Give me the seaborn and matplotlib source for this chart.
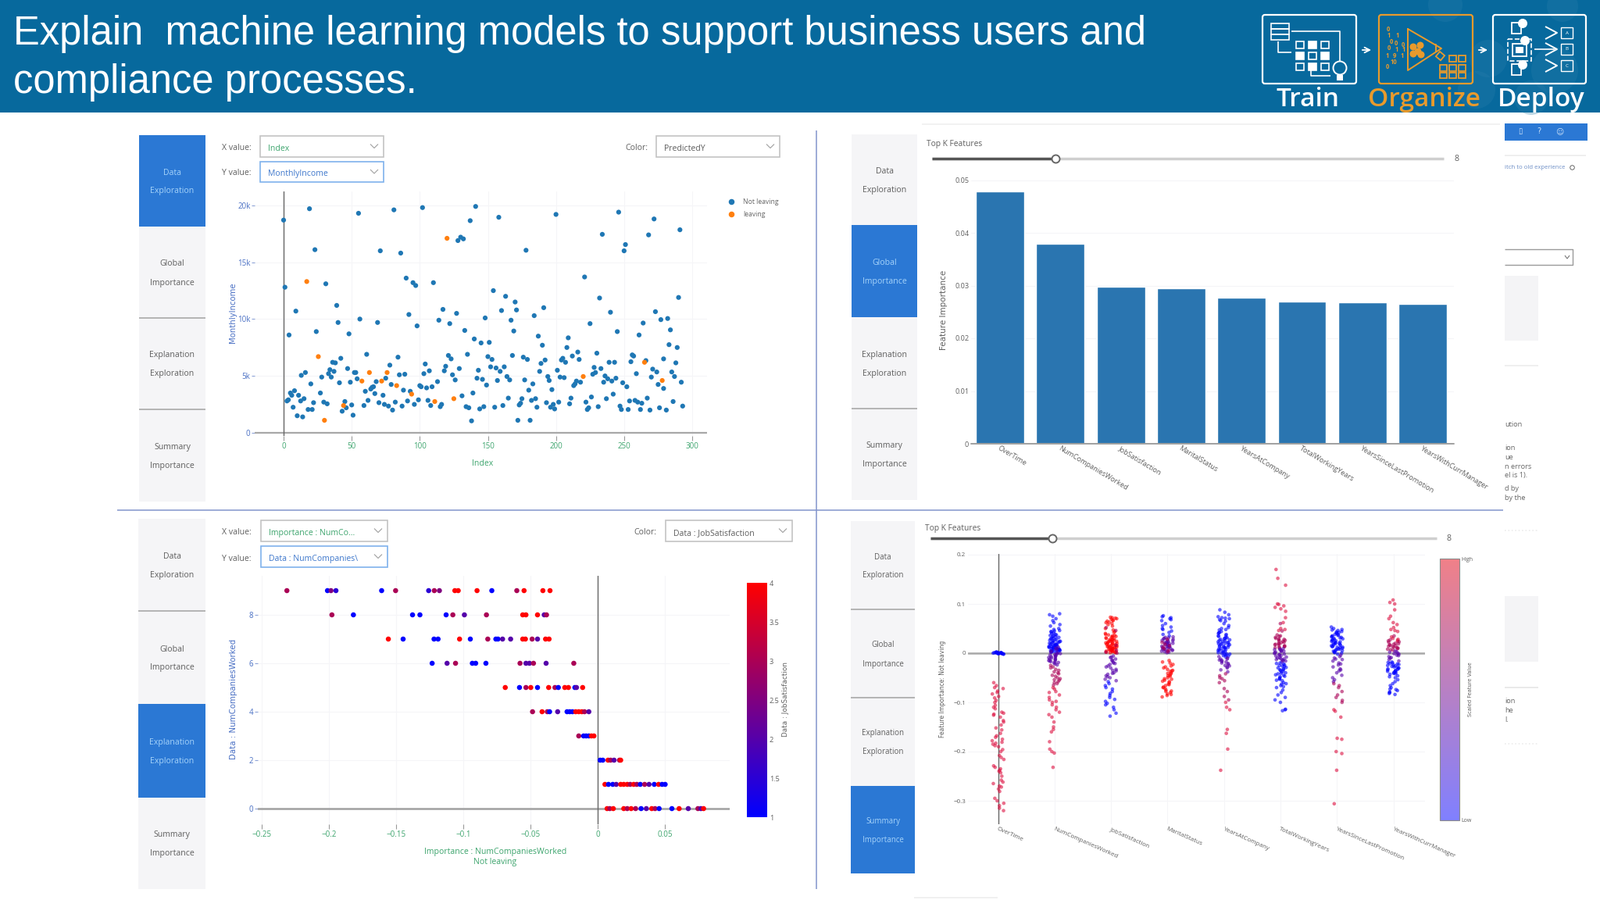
import matplotlib
matplotlib.use("Agg")
import matplotlib.pyplot as plt
import matplotlib.patches as mpatches
from matplotlib.cm import ScalarMappable
from matplotlib.colors import LinearSegmentedColormap, Normalize
from matplotlib.lines import Line2D
import pandas as pd
import seaborn as sns

W, H = 2048, 1152

# scatter, top left
leaving_index = [17, 25.5, 30, 44, 57.5, 63, 72, 76, 83, 94, 111, 120, 125, 220, 265, 278]
leaving_income = [13.3, 6.7, 1.1, 2.4, 4.55, 5.3, 4.55, 5.3, 4.15, 3.4, 2.75, 17.1, 3.0, 4.95, 6.2, 4.6]
staying_index = [
    0, 1, 4, 9, 19, 23, 24, 31, 39, 40, 48, 55, 56, 69, 71, 81, 86, 90, 95, 97, 92, 98, 102, 110, 117,
    114, 122, 127, 128, 130, 132, 133, 137, 141, 140, 148, 145, 151, 154, 158, 160, 163, 170, 171, 167,
    169, 178, 184, 191, 187, 190, 200, 209, 208, 216, 212, 221, 230, 232, 225, 234, 240, 245, 246, 251,
    250, 261, 264, 268, 272, 273, 277, 282, 284, 290, 291, 283, 289,
    2.5, 3.5, 5, 6, 8, 11, 12.5, 15, 7, 10, 14, 13, 16, 20, 18, 21, 22, 27, 28, 29.5, 32, 33, 34, 35, 37,
    36, 38, 41, 42, 43, 45, 46, 47, 49, 50, 51, 52, 53, 54, 59, 60, 61, 62, 64, 65, 66, 67, 68, 70, 73,
    74, 75, 77, 78, 79, 80, 82, 84, 85, 87, 88, 89, 91, 93, 96, 99, 100, 101, 103, 104, 105, 106, 107,
    108, 109, 113, 115, 116, 118, 119, 121, 123, 124, 126, 129, 131, 134, 135, 136, 138, 139, 142, 143,
    144, 146, 147, 149, 150, 152, 153, 155, 156, 157, 159, 161, 162, 164, 165, 166, 168, 172, 173, 174,
    175, 176, 177, 179, 180, 181, 182, 183, 185, 186, 188, 189, 192, 193, 194, 195, 196, 197, 198, 199,
    201, 202, 203, 204, 205, 206, 207, 210, 211, 213, 214, 215, 217, 218, 222, 223, 224, 226, 227, 228,
    229, 231, 233, 235, 236, 237, 238, 239, 241, 242, 243, 244, 247, 248, 249, 252, 253, 254, 255, 256,
    257, 258, 259, 260, 262, 263, 266, 267, 269, 270, 271, 274, 275, 276, 279, 279, 281, 285, 286, 287,
    288, 292, 293,
]
staying_income = [
    18.7, 12.8, 8.6, 10.7, 19.7, 16.1, 8.9, 13.1, 11.2, 9.7, 8.7, 19.3, 10.0, 9.7, 16.0, 19.6, 15.8, 13.6,
    13.2, 12.95, 10.4, 9.4, 19.8, 13.2, 10.85, 9.9, 9.6, 10.5, 16.9, 17.2, 17.05, 9.0, 18.65, 19.9, 8.25,
    10.1, 7.9, 7.95, 12.5, 18.95, 10.75, 12.0, 11.5, 10.8, 9.9, 8.95, 16.05, 10.3, 11.0, 8.5, 7.7, 19.2,
    8.35, 7.5, 7.1, 6.75, 13.7, 7.0, 11.85, 9.6, 17.45, 10.6, 8.9, 19.4, 16.55, 16.0, 8.6, 9.65, 17.4,
    18.8, 10.65, 9.95, 10.05, 9.05, 11.9, 17.85, 7.75, 7.5,
    2.8, 2.9, 3.5, 3.3, 3.7, 3.3, 2.8, 3.0, 2.25, 1.5, 1.4, 5.05, 5.3, 4.3, 2.05, 2.05, 2.65, 3.5, 4.9,
    2.7, 2.55, 5.2, 5.55, 4.9, 5.4, 6.2, 6.15, 4.4, 6.55, 1.9, 2.75, 2.2, 5.65, 4.45, 2.45, 1.55, 5.3,
    5.3, 4.75, 2.4, 3.65, 6.9, 2.85, 3.85, 4.0, 4.05, 3.45, 4.5, 2.65, 3.3, 2.5, 4.8, 2.35, 5.95, 4.25,
    2.0, 2.7, 6.65, 5.1, 2.35, 3.75, 5.15, 2.8, 3.65, 2.5, 2.9, 4.15, 4.05, 5.2, 6.05, 3.95, 2.85, 5.45,
    2.4, 4.05, 4.5, 2.3, 2.5, 5.45, 5.85, 6.8, 6.5, 5.1, 4.65, 5.65, 3.25, 2.3, 6.9, 2.2, 1.05, 3.5, 4.8,
    5.5, 2.1, 4.7, 2.3, 4.2, 6.7, 5.8, 6.45, 2.25, 5.7, 4.6, 5.4, 2.4, 5.8, 4.95, 3.05, 4.65, 6.8, 1.1,
    2.45, 2.6, 3.0, 6.65, 4.65, 6.45, 3.75, 1.1, 2.85, 4.3, 3.0, 2.25, 5.4, 6.1, 6.4, 2.65, 4.95, 4.6,
    2.25, 3.8, 2.5, 2.1, 5.5, 2.7, 4.9, 6.4, 6.55, 4.85, 6.2, 2.55, 3.05, 4.15, 4.3, 4.55, 6.45, 4.45,
    2.7, 2.05, 2.2, 3.15, 5.15, 5.75, 5.3, 2.3, 5.65, 4.45, 5.0, 3.0, 4.75, 6.2, 4.55, 3.4, 6.2, 4.8,
    2.35, 2.05, 4.4, 4.05, 2.05, 2.8, 6.25, 6.85, 6.75, 2.85, 5.2, 2.7, 2.05, 2.6, 6.35, 3.05, 2.0, 4.9,
    5.6, 5.35, 4.25, 2.2, 3.9, 6.5, 2.0, 5.35, 2.75, 4.95, 6.15, 4.45, 2.35,
]

# bars, top right
features = ["OverTime", "NumCompaniesWorked", "JobSatisfaction", "MaritalStatus", "YearsAtCompany",
            "TotalWorkingYears", "YearsSinceLastPromotion", "YearsWithCurrManager"]
importance = [0.0479, 0.0379, 0.0298, 0.02947, 0.02774, 0.02695, 0.02685, 0.0265]

# dependence plot, bottom left
dep_importance = [
    -0.2315, -0.2013, -0.1987, -0.195, -0.161, -0.1506, -0.126, -0.1218, -0.118, -0.1065, -0.104, -0.09, -0.079, -0.0604, -0.055, -0.041, -0.0357,
    -0.198, -0.182, -0.138, -0.1325, -0.113, -0.108, -0.0994, -0.083, -0.056, -0.0536, -0.045, -0.04, -0.0383,
    -0.156, -0.145, -0.122, -0.119, -0.103, -0.095, -0.082, -0.076, -0.0744, -0.071, -0.065, -0.056, -0.054, -0.049, -0.045, -0.039, -0.0364,
    -0.1234, -0.1123, -0.106, -0.0935, -0.091, -0.0834, -0.058, -0.0536, -0.051, -0.048, -0.0386, -0.018,
    -0.069, -0.0584, -0.0536, -0.05, -0.045, -0.0367, -0.032, -0.0295, -0.0247, -0.022, -0.0172, -0.016, -0.0114,
    -0.0487, -0.0416, -0.0377, -0.036, -0.03, -0.023, -0.021, -0.019, -0.0166, -0.0143, -0.012, -0.01, -0.0068,
    -0.0143, -0.0107, -0.0088, -0.0068, -0.0049, -0.003,
    0.0016, 0.0036, 0.0075, 0.0094, 0.012, 0.016, 0.0169,
    0.0052, 0.0078, 0.011, 0.0136, 0.0169, 0.0192, 0.0218, 0.024, 0.0266, 0.0289, 0.0315, 0.0347, 0.038, 0.0419, 0.0451, 0.0477, 0.05,
    0.0068, 0.0088, 0.0114, 0.0192, 0.0218, 0.0247, 0.028, 0.0321, 0.036, 0.04, 0.0425, 0.0455, 0.055, 0.0604, 0.0672, 0.0744, 0.0766, 0.0786,
]
dep_companies = [9] * 17 + [8] * 13 + [7] * 17 + [6] * 12 + [5] * 13 + [4] * 13 + [3] * 6 + [2] * 7 + [1] * 17 + [0] * 18
dep_satisfaction = [
    3, 1, 2.5, 1.5, 1, 3, 1.5, 3, 2.5, 4, 4, 4, 1, 3, 4, 4, 4,
    3, 1, 1, 1, 1, 3, 2, 3, 4, 4, 4, 2, 3,
    4, 1, 1, 1, 4, 1, 3, 1, 1, 2, 2, 4, 4, 3, 2, 4, 4,
    1, 2, 3, 1, 1, 1, 3, 2, 2, 3, 2, 3,
    4, 1, 3, 4, 1, 4, 3, 1, 4, 4, 1, 2, 4,
    3, 4, 3, 1, 2, 1, 1, 1, 4, 4, 4, 3, 2,
    3, 1, 1, 1, 4, 4,
    1, 1, 4, 3, 2, 3, 4,
    4, 1, 1, 2, 4, 4, 4, 3, 4, 3, 1, 3, 2, 1, 4, 1, 1,
    4, 3, 4, 4, 3, 4, 3, 1, 2, 4, 3, 1, 1, 4, 2, 3, 2, 4,
]

# summary plot, bottom right: importance values grouped by feature value
shap_overtime = {
    "low": [0.002, -0.001, 0.001, 0.0, -0.002, 0.001, 0.0, -0.001, 0.002, 0.0, -0.002, 0.001, 0.0, 0.001, -0.001, 0.0, 0.002, -0.001, 0.0, 0.001],
    "rose": [-0.06, -0.066, -0.07, -0.072, -0.077, -0.08, -0.083, -0.088, -0.091, -0.096, -0.1, -0.106, -0.11, -0.113, -0.12, -0.122, -0.124, -0.126,
             -0.13, -0.137, -0.14, -0.146, -0.152, -0.156, -0.163, -0.168, -0.171, -0.175, -0.178, -0.181, -0.183, -0.185, -0.188, -0.19, -0.196,
             -0.2, -0.208, -0.212, -0.216, -0.229, -0.232, -0.235, -0.238, -0.24, -0.243, -0.25, -0.258, -0.262, -0.265, -0.27, -0.272, -0.276, -0.281,
             -0.295, -0.3, -0.305, -0.31, -0.315, -0.32],
}
shap_companies = {
    "low": [0.08, 0.078, 0.075, 0.07, 0.066, 0.062, 0.058, 0.055, 0.05, 0.048, 0.046, 0.045, 0.043, 0.04, 0.038, 0.037, 0.035, 0.033, 0.032, 0.03,
            0.028, 0.027, 0.025, 0.024, 0.023, 0.022, 0.02, 0.019, 0.018, 0.017, 0.016, 0.015, 0.014, 0.013, 0.012, 0.011, 0.01, 0.009, 0.008, 0.007,
            0.006, 0.005, 0.004, 0.003, 0.002, 0.03, 0.024, 0.018, 0.012, 0.006, 0.044, 0.041, 0.036, 0.034, 0.029, 0.026, 0.021, 0.016, 0.014, 0.011,
            0.009, 0.007, 0.005, 0.003, 0.001, 0.022, 0.017, 0.01, 0.008, 0.004],
    "midlow": [0.012, 0.01, 0.007, 0.004, 0.002, 0.0, -0.002, -0.004, -0.006, -0.008, -0.01, -0.012, -0.014, -0.016, -0.018, -0.02, -0.022, -0.005, -0.011, -0.017,
               -0.003, -0.007, -0.013, -0.019, -0.001, -0.009, -0.015, -0.024],
    "midhigh": [-0.025, -0.03, -0.035, -0.04, -0.042, -0.045, -0.05, -0.052, -0.055, -0.058, -0.06, -0.065, -0.028, -0.038, -0.047, -0.054, -0.033, -0.062],
    "rose": [-0.07, -0.073, -0.078, -0.08, -0.085, -0.09, -0.095, -0.098, -0.1, -0.105, -0.11, -0.115, -0.12, -0.125, -0.13, -0.14, -0.15, -0.155, -0.16, -0.18, -0.195, -0.2, -0.203, -0.232],
}
shap_satisfaction = {
    "high": [0.073, 0.071, 0.07, 0.067, 0.065, 0.063, 0.06, 0.058, 0.055, 0.05, 0.047, 0.044, 0.042, 0.04, 0.038, 0.036, 0.035, 0.033, 0.032, 0.03,
             0.028, 0.027, 0.025, 0.024, 0.022, 0.021, 0.02, 0.018, 0.017, 0.015, 0.014, 0.012, 0.011, 0.01, 0.008, 0.007, 0.006, 0.005, 0.004, 0.003,
             0.002, 0.001, 0.026, 0.019, 0.013, 0.009, 0.031, 0.023, 0.072, 0.069, 0.066, 0.062, 0.037, 0.034, 0.029, 0.027, 0.024, 0.021, 0.018, 0.016,
             0.014, 0.012, 0.01, 0.008, 0.006, 0.004, 0.003, 0.002, 0.001, 0.02, 0.015, 0.011],
    "midhigh": [0.052, 0.046, 0.016, 0.006, 0.002, 0.0],
    "midlow": [-0.006, -0.009, -0.012, -0.015, -0.018, -0.02, -0.023, -0.026, -0.03, -0.033, -0.036, -0.04, -0.043, -0.046, -0.05, -0.053, -0.056,
               -0.008, -0.014, -0.021, -0.028, -0.035, -0.041, -0.048],
    "low": [-0.058, -0.062, -0.066, -0.07, -0.073, -0.078, -0.082, -0.086, -0.09, -0.094, -0.098, -0.102, -0.105, -0.11, -0.115, -0.122, -0.128],
}
shap_marital = {
    "low": [0.076, 0.074, 0.072, 0.068, 0.066, 0.06, 0.056, 0.053, 0.048, 0.045, 0.042, 0.038, 0.035, 0.07, 0.05],
    "midlow": [0.033, 0.031, 0.029, 0.027, 0.025, 0.023, 0.021, 0.02, 0.018, 0.016, 0.014, 0.012, 0.01, 0.008, 0.006, 0.004, 0.002, 0.03, 0.024, 0.017, 0.011, 0.005,
               0.032, 0.028, 0.026, 0.022, 0.019, 0.015, 0.013, 0.009, 0.007, 0.003, 0.001, 0.02, 0.012, 0.006],
    "midhigh": [0.028, 0.022, 0.015, 0.009, 0.003, 0.018, 0.012, 0.006],
    "high": [-0.015, -0.018, -0.02, -0.023, -0.026, -0.028, -0.03, -0.033, -0.035, -0.037, -0.04, -0.042, -0.045, -0.047, -0.05, -0.053, -0.055, -0.058,
             -0.06, -0.063, -0.066, -0.069, -0.072, -0.075, -0.077, -0.08, -0.083, -0.086, -0.089, -0.036, -0.041, -0.046, -0.052, -0.057, -0.064, -0.07,
             -0.078, -0.084],
}
shap_company_years = {
    "low": [0.088, 0.083, 0.078, 0.074, 0.072, 0.07, 0.068, 0.065, 0.06, 0.056, 0.052, 0.05, 0.047, 0.044, 0.042, 0.04, 0.038, 0.036, 0.034, 0.032, 0.03,
            0.028, 0.026, 0.024, 0.022, 0.02, 0.018, 0.016, 0.014, 0.012, 0.01, 0.008, 0.006, 0.004, 0.002, 0.0, -0.002, -0.004, -0.006, -0.008,
            0.071, 0.066, 0.048, 0.041, 0.035, 0.031, 0.027, 0.025, 0.023, 0.021, 0.019, 0.017, 0.015, 0.013, 0.011, 0.009, 0.007, 0.005, 0.003, 0.001,
            -0.001, -0.003, -0.005, 0.029, 0.02, 0.012],
    "midlow": [-0.01, -0.012, -0.015, -0.017, -0.02, -0.023, -0.026, -0.03, -0.034, -0.038, -0.012, -0.018, -0.025, -0.007, -0.014, -0.021, -0.028],
    "midhigh": [-0.042, -0.046, -0.05, -0.052, -0.056, -0.06, -0.072, -0.078, -0.088, -0.095],
    "rose": [-0.1, -0.11, -0.115, -0.155, -0.163, -0.195, -0.238],
}
shap_working_years = {
    "rose": [0.17, 0.152, 0.138, 0.1, 0.099, 0.096, 0.093, 0.09, 0.085, 0.072, 0.062, 0.05, 0.048, 0.046],
    "midhigh": [0.06, 0.045, 0.037, 0.034, 0.032, 0.03, 0.028, 0.026, 0.024, 0.022, 0.02, 0.018, 0.016, 0.014, 0.012, 0.01, 0.027, 0.021, 0.015,
                0.035, 0.029, 0.025, 0.019, 0.017, 0.013, 0.011],
    "midlow": [0.009, 0.007, 0.005, 0.003, 0.001, -0.001, -0.003, -0.005, -0.008, -0.01, -0.012, -0.014, -0.016, -0.018, 0.004, -0.004, -0.011,
               0.008, 0.006, 0.002, -0.002, -0.006, -0.009, -0.013, -0.015],
    "low": [-0.02, -0.022, -0.025, -0.027, -0.03, -0.032, -0.035, -0.037, -0.04, -0.042, -0.045, -0.048, -0.05, -0.053, -0.056, -0.06, -0.063,
            -0.066, -0.07, -0.075, -0.08, -0.085, -0.09, -0.095, -0.1, -0.114, -0.117, -0.115, -0.024, -0.033, -0.041, -0.052, -0.021, -0.026, -0.029,
            -0.034, -0.038, -0.044, -0.047, -0.055, -0.062, -0.068],
}
shap_promotion = {
    "low": [0.053, 0.05, 0.048, 0.046, 0.044, 0.042, 0.04, 0.038, 0.036, 0.034, 0.032, 0.03, 0.028, 0.026, 0.024, 0.022, 0.02, 0.018, 0.016, 0.014, 0.012,
            0.01, 0.008, 0.006, 0.004, 0.002, 0.0, -0.002, 0.025, 0.019, 0.013, 0.007, 0.003, 0.041, 0.035, 0.029, 0.047, 0.043, 0.037, 0.033, 0.027,
            0.023, 0.021, 0.017, 0.015, 0.011, 0.009, 0.005, 0.001, 0.031, 0.02, 0.012],
    "midlow": [-0.004, -0.007, -0.01, -0.013, -0.016, -0.02, -0.024, -0.028, -0.032, -0.036, -0.04, -0.045, -0.05, -0.054, -0.058, -0.012, -0.022, -0.034],
    "midhigh": [-0.062, -0.066, -0.07, -0.078, -0.085, -0.09, -0.096, -0.1],
    "rose": [-0.115, -0.118, -0.13, -0.173, -0.175, -0.2, -0.204, -0.238, -0.306],
}
shap_manager = {
    "rose": [0.108, 0.103, 0.1, 0.088, 0.075, 0.07, 0.062, 0.058, 0.052, 0.048, 0.046, 0.044, 0.033, 0.03, 0.028, 0.026, 0.024],
    "midhigh": [0.035, 0.022, 0.02, 0.018, 0.016, 0.014, 0.012, 0.01, 0.008, 0.006, 0.025, 0.017, 0.011, 0.027, 0.023, 0.019, 0.015, 0.013, 0.009, 0.007],
    "midlow": [0.004, 0.002, 0.0, -0.002, -0.004, -0.007, -0.01, -0.013, -0.016, 0.003, -0.001, -0.005, -0.009],
    "low": [-0.018, -0.02, -0.022, -0.024, -0.026, -0.028, -0.03, -0.032, -0.034, -0.036, -0.038, -0.04, -0.043, -0.046, -0.05, -0.054, -0.058, -0.062,
            -0.066, -0.07, -0.073, -0.076, -0.079, -0.082, -0.084, -0.023, -0.029, -0.035, -0.041, -0.019, -0.021, -0.025, -0.027, -0.031, -0.033, -0.037,
            -0.039, -0.042, -0.048, -0.074, -0.08],
}
shap_by_feature = [shap_overtime, shap_companies, shap_satisfaction, shap_marital,
                   shap_company_years, shap_working_years, shap_promotion, shap_manager]

BLUE_TAB = "#2b78d4"
HEADER = "#07699d"
GREEN = "#3ea56e"
AXIS_BLUE = "#4a70c4"
GREY_TEXT = "#5f5f5f"
BAR = "#2a75b0"
GRID = "#f5f5f8"
LEVEL_COLORS = {"low": "#0000ff", "midlow": "#5500aa", "midhigh": "#aa0055", "rose": "#dc1040", "high": "#ff0000"}

sns.set_theme(style="white")
plt.rcParams["font.family"] = ["Open Sans", "DejaVu Sans"]

fig = plt.figure(figsize=(W / 100, H / 100), dpi=100, facecolor="white")

# page layer in pixel coordinates, everything that is not a chart sits here
page = fig.add_axes([0, 0, 1, 1], zorder=0)
page.set_xlim(0, W)
page.set_ylim(H, 0)
page.axis("off")


def px_axes(left, top, right, bottom):
    ax = fig.add_axes([left / W, 1 - bottom / H, (right - left) / W, (bottom - top) / H], zorder=2)
    ax.patch.set_alpha(0)
    for spine in ax.spines.values():
        spine.set_visible(False)
    return ax


def label_at(ax, box, xlabel=None, ylabel=None):
    left, top, right, bottom = box
    if xlabel:
        ax.set_xlabel(xlabel[0], color=GREEN, fontsize=xlabel[3], linespacing=1.15, va="center")
        ax.xaxis.set_label_coords((xlabel[1] - left) / (right - left), (bottom - xlabel[2]) / (bottom - top))
    else:
        ax.set_xlabel("")
    if ylabel:
        ax.set_ylabel(ylabel[0], color=ylabel[3], fontsize=ylabel[4], family="DejaVu Sans", va="center")
        ax.yaxis.set_label_coords((ylabel[1] - left) / (right - left), (bottom - ylabel[2]) / (bottom - top))


def rect(x0, y0, x1, y1, **kw):
    page.add_patch(mpatches.Rectangle((x0, y0), x1 - x0, y1 - y0, **kw))


def line(xs, ys, color, lw=1.0, **kw):
    page.plot(xs, ys, color=color, lw=lw, solid_capstyle="butt", **kw)


def tabs(x0, x1, edges, active, size=7.6):
    names = [("Data", "Exploration"), ("Global", "Importance"), ("Explanation", "Exploration"), ("Summary", "Importance")]
    for i, (a, b) in enumerate(names):
        top, bottom = edges[i], edges[i + 1]
        on = i == active
        rect(x0, top, x1, bottom, fc=BLUE_TAB if on else "#f5f5f7", ec="none")
        xc = (x0 + x1) / 2
        yc = (top + bottom) / 2 + 1.5
        col = "#a5d3fa" if on else GREY_TEXT
        page.text(xc, yc - 12, a, ha="center", va="center", fontsize=size, color=col)
        page.text(xc, yc + 12, b, ha="center", va="center", fontsize=size, color=col)
        if i > 0 and not on and i - 1 != active:
            line([x0, x1], [top, top], "#b4b4b4", 1.4)


def dropdown(x0, y0, x1, y1, text, color, edge="#c4c4c4"):
    rect(x0, y0, x1, y1, fc="white", ec=edge, lw=1.2)
    page.text(x0 + 10, (y0 + y1) / 2 + 3, text, va="center", fontsize=7.6, color=color)
    yc = (y0 + y1) / 2
    line([x1 - 17, x1 - 12, x1 - 7], [yc - 3, yc + 2, yc - 3], "#a0a0a0", 0.8)


def slider(x0, x1, knob, y, x_value, title_x, title_y):
    line([x0, x1], [y, y], "#cfcfcf", 2.5)
    line([x0, knob], [y, y], "#555555", 2.5)
    page.scatter([knob], [y], s=52, fc="white", ec="#666666", lw=1.4, zorder=3)
    page.text(x_value, y + 1, "8", ha="center", va="center", fontsize=7.6, color=GREY_TEXT)
    page.text(title_x, title_y, "Top K Features", va="center", fontsize=7.4, color=GREY_TEXT)


# header
rect(0, 0, W, 144, fc=HEADER, ec="none")
for cx, cy, r in [(1850, 6, 22), (1905, 75, 24), (1990, 90, 30), (1890, 115, 24), (2000, 8, 20), (1960, 125, 22)]:
    page.add_patch(mpatches.Circle((cx, cy), r, fc="#2a7fab", ec="none", alpha=0.3))
page.text(17, 44, "Explain  machine learning models to support business users and", va="center",
          fontsize=36.5, color="white", family="Liberation Sans")
page.text(17, 106, "compliance processes.", va="center", fontsize=36.5, color="white", family="Liberation Sans")

ORANGE = "#e89a2c"
for x0, x1, col in [(1616, 1736, "white"), (1765, 1885, ORANGE), (1911, 2030, "white")]:
    page.add_patch(mpatches.FancyBboxPatch((x0 + 3, 22), x1 - x0 - 6, 82, boxstyle="round,pad=3", fc="none", ec=col, lw=1.6))
for x, name, col in [(1674, "Train", "white"), (1823, "Organize", ORANGE), (1973, "Deploy", "white")]:
    page.text(x, 127, name, ha="center", va="center", fontsize=24, color=col, weight=600)
for x0 in (1741, 1890):
    page.annotate("", xy=(x0 + 17, 64), xytext=(x0, 64), arrowprops=dict(arrowstyle="->", color="white", lw=1.3))

# train icon
for y in (30, 37, 44):
    rect(1627, y, 1650, y + 7, fc="none", ec="white", lw=1.2)
line([1636, 1636, 1653], [53, 67, 67], "white", 1.2)
line([1653, 1715, 1715], [40, 40, 78], "white", 1.2)
for col_i in range(3):
    for row_i in range(3):
        rect(1659 + col_i * 16, 53 + row_i * 14, 1669 + col_i * 16, 62 + row_i * 14,
             fc="white" if (col_i + row_i) % 2 else "none", ec="white", lw=1.2)
page.add_patch(mpatches.Circle((1715, 87), 8.5, fc="none", ec="white", lw=1.4))
line([1678, 1678, 1703], [90, 97, 97], "white", 1.2)
rect(1711, 96, 1719, 103, fc="white", ec="none")

# organize icon
page.plot([1802, 1845, 1802, 1802], [37, 62, 90, 37], color=ORANGE, lw=1.4)
line([1836, 1838, 1838], [57, 57, 66], ORANGE, 1.4)
for cx, cy in [(1809, 60), (1815, 66), (1818, 58), (1809, 69), (1819, 70)]:
    page.add_patch(mpatches.Circle((cx, cy), 4.5, fc=ORANGE, ec="none"))
for tx, ty, s in [(1777, 38, "0"), (1778, 46, "1"), (1789, 46, "1"), (1781, 53, "0"), (1787, 56, "0"), (1796, 57, "0"),
                  (1778, 61, "0"), (1788, 64, "1"), (1797, 63, "1"), (1776, 71, "1"), (1785, 71, "9"), (1795, 72, "1"),
                  (1784, 80, "10"), (1776, 86, "0")]:
    page.text(tx, ty, s, ha="center", va="center", fontsize=5.5, color=ORANGE, weight="bold")
for col_i in range(3):
    rect(1843 + col_i * 12, 83, 1852 + col_i * 12, 91, fc="none", ec=ORANGE, lw=1.3)
    rect(1843 + col_i * 12, 93, 1852 + col_i * 12, 100, fc="none", ec=ORANGE, lw=1.3)
    if col_i:
        rect(1843 + col_i * 12, 71, 1852 + col_i * 12, 79, fc="none", ec=ORANGE, lw=1.3)
page.add_patch(mpatches.Rectangle((1843, 66), 8, 8, angle=40, fc="none", ec=ORANGE, lw=1.3))

# deploy icon
for y in (29, 82):
    rect(1935, y, 1947, y + 14, fc="none", ec="white", lw=1.3)
    page.add_patch(mpatches.Circle((1949, y + 1), 6, fc="white", ec="none"))
page.add_patch(mpatches.Circle((1952, 52), 6, fc="white", ec="none"))
rect(1930, 50, 1960, 78, fc="none", ec="white", lw=1.2, ls="--")
rect(1936, 56, 1954, 72, fc="none", ec="white", lw=1.3)
rect(1940, 60, 1950, 68, fc="white", ec="none")
line([1964, 1990], [63, 63], "white", 1.2)
for y, s in [(42, "A"), (63, "B"), (84, "C")]:
    line([1978, 1993, 1978], [y - 8, y, y + 8], "white", 1.4)
    rect(1998, y - 7, 2013, y + 7, fc="none", ec="white", lw=1)
    page.text(2005.5, y, s, ha="center", va="center", fontsize=4.5, color="white")

# dividers between the four screenshots
line([150, 1924], [652.5, 652.5], "#8294cc", 1.1)
line([1045, 1045], [167, 1138], "#8294cc", 1.1)
line([1170, 1277], [1149, 1149], "#ededed", 1.2)
line([1180, 1920], [159, 159], "#f0f0f0", 1.2)

# remains of the page behind the screenshots
rect(1926, 158, 2032, 180, fc=BLUE_TAB, ec="none")
for x, s in [(1946, "▯"), (1970, "?"), (1996, "☺")]:
    page.text(x, 168, s, ha="center", va="center", fontsize=7, color="#cfe3f8", family="DejaVu Sans")
line([1926, 2030], [199, 199], "#ececec", 1.2)
page.text(1926, 214, "itch to old experience", va="center", fontsize=5.6, color="#6e8fc6")
page.plot([2012], [214], "o", ms=4, mfc="none", mec="#666666", mew=0.7)
line([1926, 2013, 2013, 1926], [319, 319, 339, 339], "#9a9a9a", 1)
line([2003, 2006, 2009], [327, 331, 327], "#777777", 0.8)
rect(1926, 353, 1969, 436, fc="#f4f4f6", ec="none")
line([1926, 1969], [468, 468], "#ececec", 1.2)
for y, s in [(544, "ution"), (573, "ion"), (585, "ue"), (597, "n errors"), (609, "el is 1)."), (626, "d by"), (638, "by the")]:
    page.text(1926, y, s, va="center", fontsize=6.6, color="#666666")
line([1926, 1969], [679, 679], "#ececec", 1.2, ls=":")
rect(1926, 763, 1969, 847, fc="#f4f4f6", ec="none")
line([1926, 1969], [880, 880], "#e6e6e6", 1.2)
for y, s in [(898, "ion"), (910, "he"), (922, "l.")]:
    page.text(1926, y, s, va="center", fontsize=6.6, color="#666666")
line([1926, 1969], [952, 952], "#ececec", 1.2, ls=":")

# tabs and controls
tabs(178, 263, [173, 290, 407, 524, 642], 0)
tabs(1090, 1174, [172, 288, 406, 523, 640], 1)
tabs(177, 263, [664, 782, 901, 1021, 1138], 2)
tabs(1089, 1171, [667, 780, 893, 1006, 1118], 3, size=7.0)

for x, y, s in [(284, 190, "X value:"), (284, 222, "Y value:"), (800, 190, "Color:"),
                (284, 682, "X value:"), (284, 715, "Y value:"), (811, 682, "Color:")]:
    page.text(x, y, s, va="center", fontsize=7.6, color=GREY_TEXT)
dropdown(333, 174, 491, 201, "Index", GREEN)
dropdown(333, 207, 491, 233, "MonthlyIncome", "#3f78cc", edge="#7fb2ec")
dropdown(840, 174, 998, 201, "PredictedY", GREY_TEXT)
dropdown(334, 666, 496, 693, "Importance : NumCo...", GREEN)
dropdown(334, 699, 496, 726, "Data : NumCompanies\\", "#3f78cc", edge="#7fb2ec")
dropdown(852, 666, 1014, 693, "Data : JobSatisfaction", GREY_TEXT)
slider(1193, 1848, 1351, 203, 1865, 1186, 185)
slider(1191, 1839, 1347, 689, 1855, 1184, 677)

# top left: scatter
box = (326, 245, 905, 558)
ax = px_axes(*box)
scatter_df = pd.DataFrame({
    "index": staying_index + leaving_index,
    "income": staying_income + leaving_income,
    "predicted": ["Not leaving"] * len(staying_index) + ["leaving"] * len(leaving_index),
})
sns.scatterplot(data=scatter_df, x="index", y="income", hue="predicted", palette={"Not leaving": "#1f77b4", "leaving": "#ff7f0e"},
                s=20, linewidth=0, legend=False, clip_on=False, zorder=3, ax=ax)
ax.set_xlim((326 - 363) / (523 / 300), (905 - 363) / (523 / 300))
ax.set_ylim(-4 / 14.56, (554 - 245) / 14.56)
ax.axhline(0, color="#a8a8a8", lw=1.6, zorder=1)
ax.axvline(0, color="#666666", lw=1, zorder=2)
ax.set_xticks([0, 50, 100, 150, 200, 250, 300])
ax.set_yticks([0, 5, 10, 15, 20], ["0", "5k", "10k", "15k", "20k"])
ax.grid(True, color=GRID, lw=0.8)
ax.set_axisbelow(True)
ax.tick_params(axis="x", bottom=True, length=4, width=0.8, color="#999999", labelcolor=GREEN, labelsize=7, pad=2)
ax.tick_params(axis="y", left=True, length=3, width=0.8, color="#8ea3d8", labelcolor=AXIS_BLUE, labelsize=7, pad=1)
label_at(ax, box, xlabel=("Index", 618, 593, 7.6), ylabel=("MonthlyIncome", 298, 400, AXIS_BLUE, 7.3))
handles = [Line2D([], [], marker="o", ls="", ms=4.4, color=c, label=s) for c, s in [("#1f77b4", "Not leaving"), ("#ff7f0e", "leaving")]]
ax.legend(handles=handles, loc="upper left", bbox_to_anchor=(927 / W, 1 - 254 / H), bbox_transform=fig.transFigure, frameon=False,
          fontsize=6.2, labelspacing=0.85, handletextpad=0.8, borderpad=0, borderaxespad=0, labelcolor="#666666")

# top right: bars
box = (1243, 227, 1861, 568)
ax = px_axes(*box)
sns.barplot(x=features, y=importance, color=BAR, saturation=1, width=0.8, order=features, ax=ax, zorder=3)
ax.set_xlim((1243 - 1280) / 77.3, (1861 - 1280) / 77.3)
ax.set_ylim(0, 341 / 6750)
ax.axhline(0, color="#a0a0a0", lw=1.4, zorder=4, clip_on=False)
ax.set_yticks([0, 0.01, 0.02, 0.03, 0.04, 0.05], ["0", "0.01", "0.02", "0.03", "0.04", "0.05"])
ax.yaxis.grid(True, color=GRID, lw=0.8)
ax.set_axisbelow(True)
ax.tick_params(axis="y", length=0, labelcolor=GREY_TEXT, labelsize=6.6, pad=2)
ax.tick_params(axis="x", length=0, labelcolor=GREY_TEXT, labelsize=6.6, pad=1)
ax.set_xticks(range(8), features, rotation=-31, ha="left", rotation_mode="anchor")
label_at(ax, box, ylabel=("Feature Importance", 1208, 397, GREY_TEXT, 7.5))

# bottom left: dependence
box = (330, 737, 934, 1055)
ax = px_axes(*box)
jobsat_cmap = LinearSegmentedColormap.from_list("jobsat", ["#0000ff", "#ff0000"])
dep_df = pd.DataFrame({"importance": dep_importance, "companies": dep_companies, "satisfaction": dep_satisfaction})
sns.scatterplot(data=dep_df, x="importance", y="companies", hue="satisfaction", hue_norm=(1, 4), palette=jobsat_cmap,
                s=22, linewidth=0, legend=False, clip_on=False, zorder=3, ax=ax)
ax.set_xlim((330 - 765.4) / 1720, (934 - 765.4) / 1720)
ax.set_ylim(-20 / 31, (1035 - 737) / 31)
ax.axhline(0, color="#a0a0a0", lw=1.8, zorder=1)
ax.axvline(0, color="#666666", lw=1, zorder=2)
ax.set_xticks([-0.25, -0.2, -0.15, -0.1, -0.05, 0, 0.05], ["−0.25", "−0.2", "−0.15", "−0.1", "−0.05", "0", "0.05"])
ax.set_yticks([0, 2, 4, 6, 8])
ax.grid(True, color=GRID, lw=0.8)
ax.set_axisbelow(True)
ax.tick_params(axis="x", bottom=True, length=4, width=0.8, color="#999999", labelcolor=GREEN, labelsize=7, pad=2)
ax.tick_params(axis="y", left=True, length=3, width=0.8, color="#8ea3d8", labelcolor=AXIS_BLUE, labelsize=7, pad=1)
label_at(ax, box, xlabel=("Importance : NumCompaniesWorked\nNot leaving", 634, 1097, 7.6),
         ylabel=("Data : NumCompaniesWorked", 299, 895, AXIS_BLUE, 7.4))

cax = px_axes(956, 746, 982, 1046)
cb = fig.colorbar(ScalarMappable(Normalize(1, 4), jobsat_cmap), cax=cax)
cb.outline.set_visible(False)
cb.set_ticks([1, 1.5, 2, 2.5, 3, 3.5, 4], labels=["1", "1.5", "2", "2.5", "3", "3.5", "4"])
cax.tick_params(length=0, labelsize=6.6, labelcolor=GREY_TEXT, pad=2)
cax.set_ylabel("Data : JobSatisfaction", color=GREY_TEXT, fontsize=6.4, family="DejaVu Sans", va="center")
cax.yaxis.set_label_coords((1006 - 956) / 26, (1046 - 895) / 300)

# bottom right: summary strip plot
rows = []
for name, groups in zip(features, shap_by_feature):
    for level, values in groups.items():
        rows.extend({"feature": name, "shap": v, "level": level} for v in values)
strip_df = pd.DataFrame(rows)

box = (1239, 709, 1824, 1055)
ax = px_axes(*box)
ax.axhline(0, color="#a8a8a8", lw=1.8, zorder=1)
sns.stripplot(data=strip_df, x="feature", y="shap", hue="level", order=features, palette=LEVEL_COLORS,
              hue_order=["low", "midlow", "midhigh", "rose", "high"], jitter=0.105, size=3.3, alpha=0.6, linewidth=0,
              legend=False, zorder=3, ax=ax)
ax.set_xlim((1239 - 1277.5) / 72.3, (1824 - 1277.5) / 72.3)
ax.set_ylim((836 - 1055) / 630, (836 - 709) / 630)
ax.axvline(0, color="#666666", lw=1, zorder=2)
ax.set_yticks([-0.3, -0.2, -0.1, 0, 0.1, 0.2], ["−0.3", "−0.2", "−0.1", "0", "0.1", "0.2"])
ax.grid(True, color=GRID, lw=0.8)
ax.set_axisbelow(True)
ax.tick_params(axis="y", length=0, labelcolor=GREY_TEXT, labelsize=5.8, pad=2)
ax.tick_params(axis="x", length=0, labelcolor=GREY_TEXT, labelsize=5.8, pad=2)
ax.set_xticks(range(8), features, rotation=-24, ha="left", rotation_mode="anchor")
label_at(ax, box, ylabel=("Feature Importance: Not leaving", 1206.5, 882, GREY_TEXT, 5.5))

scaled_cmap = LinearSegmentedColormap.from_list("scaled", ["#8080ff", "#f08088"])
cax = px_axes(1843, 715, 1868, 1050)
cb = fig.colorbar(ScalarMappable(Normalize(0, 1), scaled_cmap), cax=cax)
cb.outline.set_edgecolor("#8a8a8a")
cb.outline.set_linewidth(0.8)
cb.set_ticks([0, 1], labels=["Low", "High"])
cax.tick_params(length=0, labelsize=5, labelcolor=GREY_TEXT, pad=2)
cax.set_ylabel("Scaled Feature Value", color=GREY_TEXT, fontsize=4.8, family="DejaVu Sans", va="center")
cax.yaxis.set_label_coords((1882 - 1843) / 25, (1050 - 882) / 335)

fig.savefig("out.png", dpi=100)
